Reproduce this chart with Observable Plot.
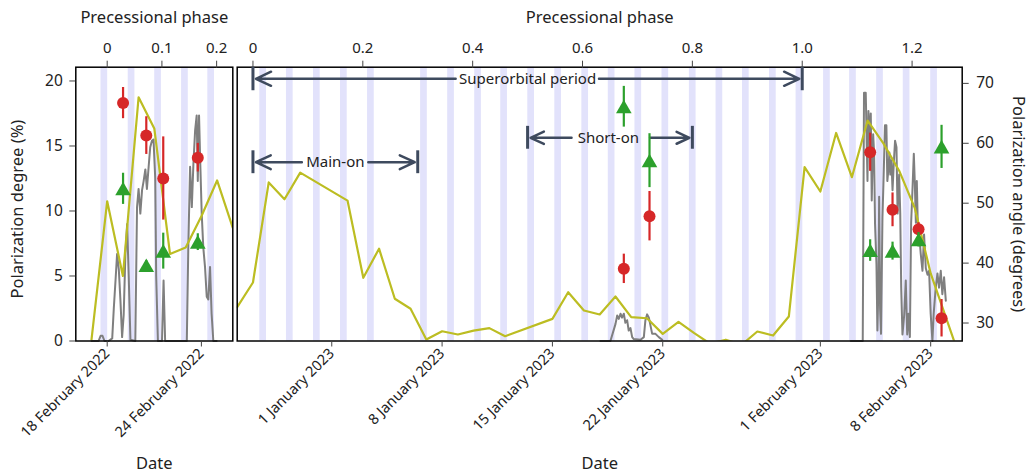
<!DOCTYPE html>
<html><head><meta charset="utf-8">
<script src="https://cdn.jsdelivr.net/npm/d3@7"></script>
<script src="https://cdn.jsdelivr.net/npm/@observablehq/plot@0.6"></script>
<style>
body{margin:0;background:#fff;}
#chart{position:relative;width:1030px;height:473px;overflow:hidden;}
#chart svg{position:absolute;left:0;top:0;}
</style></head><body><div id="chart"></div>
<script>
// ---------------- DATA ----------------
// Left panel (February 2022); times as days after leftEpoch
const leftEpoch = "2022-02-18";
const leftDomainDates = ["2022-02-16", "2022-02-26"];
const leftDateTicks = ["2022-02-18", "2022-02-24"];
const leftPhaseTicks = [0, 0.1, 0.2];
const stripesLeft = ["2022-02-17T18:50Z", "2022-02-19T12:30Z", "2022-02-21T05:00Z", "2022-02-22T22:05Z", "2022-02-24T14:10Z"];
const yellowLeftDates = ["2022-02-17", "2022-02-18", "2022-02-19", "2022-02-20", "2022-02-21", "2022-02-22", "2022-02-23", "2022-02-24", "2022-02-25", "2022-02-26"];
const yellowLeftValues = [0.1, 10.75, 5.0, 18.75, 16.35, 6.7, 7.2, 9.6, 12.35, 8.7];
const grayLeftT = [-1.0, -0.55, -0.42, -0.30, -0.17, 0.08, 0.32, 0.42, 0.53, 0.63, 0.74, 0.84, 0.95, 1.05, 1.16, 1.27, 1.37, 1.48, 1.79, 1.90, 2.00, 2.11, 2.22, 2.32, 2.43, 2.53, 2.64, 2.74, 2.85, 2.95, 3.06, 3.12, 3.23, 3.49, 3.59, 3.69, 5.07, 5.17, 5.28, 5.39, 5.49, 5.60, 5.70, 5.77, 5.85, 5.93, 6.02, 6.12, 6.23, 6.34, 6.44, 6.55, 6.65, 6.76, 6.97];
const grayLeftV = [0, 0, 0.4, 0.4, 0, 0, 0.2, 2.5, 4.65, 6.7, 5.5, 3.2, 0.3, 2.0, 6.7, 9.0, 5.0, 0.1, 0, 10.3, 11.7, 9.8, 11.6, 12.3, 13.2, 11.7, 13.4, 14.9, 15.4, 15.5, 12.5, 5, 0, 0, 4.65, 0, 0, 7.5, 13.4, 10.3, 13.6, 16.2, 17.35, 12.3, 17.35, 13.6, 9.8, 7.2, 5.7, 3.4, 3.2, 5.7, 2.1, 0, 0];
const obsLeftT = [1.01, 2.49, 3.57, 5.77];
const degLeft = [18.3, 15.8, 12.5, 14.1];
const degLeftErr = [1.2, 1.45, 3.2, 1.1];
const angLeft = [52.4, 39.6, 42.0, 43.5];
const angLeftErr = [2.6, 0.8, 3.0, 1.4];

// Right panel (Dec 2022 - Feb 2023); times as days after rightEpoch
const rightEpoch = "2023-01-01";
const rightDomainDates = ["2022-12-26", "2023-02-10"];
const rightDateTicks = ["2023-01-01", "2023-01-08", "2023-01-15", "2023-01-22", "2023-02-01", "2023-02-08"];
const rightPhaseTicks = [0, 0.2, 0.4, 0.6, 0.8, 1.0, 1.2];
const stripesRight = ["2022-12-27T14:45Z", "2022-12-29T07:20Z", "2022-12-31T00:30Z", "2023-01-01T17:40Z", "2023-01-03T10:50Z", "2023-01-06T19:40Z", "2023-01-08T12:50Z", "2023-01-10T06:00Z", "2023-01-11T21:40Z", "2023-01-13T14:50Z", "2023-01-15T08:00Z", "2023-01-17T01:10Z", "2023-01-18T17:25Z", "2023-01-20T10:00Z", "2023-01-22T03:10Z", "2023-01-23T20:55Z", "2023-01-25T13:30Z", "2023-01-27T05:45Z", "2023-01-28T22:55Z", "2023-01-30T15:25Z", "2023-02-01T09:15Z", "2023-02-03T00:55Z", "2023-02-04T18:05Z", "2023-02-06T10:35Z", "2023-02-08T04:25Z"];
const yellowRightDates = ["2022-12-26", "2022-12-27", "2022-12-28", "2022-12-29", "2022-12-30", "2023-01-02", "2023-01-03", "2023-01-04", "2023-01-05", "2023-01-06", "2023-01-07", "2023-01-08", "2023-01-09", "2023-01-10", "2023-01-11", "2023-01-12", "2023-01-15", "2023-01-16", "2023-01-17", "2023-01-18", "2023-01-19", "2023-01-20", "2023-01-21", "2023-01-22", "2023-01-23", "2023-01-24", "2023-01-25", "2023-01-26", "2023-01-27", "2023-01-28", "2023-01-29", "2023-01-30", "2023-01-31", "2023-02-01", "2023-02-02", "2023-02-03", "2023-02-04", "2023-02-05", "2023-02-06", "2023-02-07", "2023-02-08", "2023-02-09", "2023-02-10"];
const yellowRightValues = [2.6, 4.5, 12.2, 10.9, 12.95, 10.8, 4.86, 7.1, 3.25, 2.48, 0.12, 0.75, 0.5, 0.8, 0.99, 0.37, 1.7, 3.75, 2.35, 2.04, 3.42, 1.83, 1.75, 0.55, 1.47, 0.6, -0.2, 0.1, -0.3, 0.73, 0.42, 1.88, 13.37, 11.5, 16.0, 12.6, 16.96, 15.2, 13.1, 10.2, 5.2, 1.7, -1.8];
const grayRightAT = [17.05, 17.68, 18.0, 18.11, 18.21, 18.32, 18.42, 18.53, 18.63, 18.74, 18.84, 18.95, 19.06, 19.16, 19.59, 19.80, 19.90, 20.01, 20.12, 20.22, 20.33, 20.54, 20.75, 20.97];
const grayRightAV = [0, 0, 1.3, 1.96, 1.7, 2.1, 1.8, 2.1, 1.4, 1.6, 0.8, 1.0, 0.3, 0.15, 0.1, 0.3, 1.6, 2.05, 1.8, 1.2, 0.55, 0.55, 0.3, 0.1];
const grayRightBT = [32.93, 33.69, 33.77, 33.88, 33.99, 34.05, 34.14, 34.20, 34.26, 34.35, 34.41, 34.47, 34.56, 34.62, 34.69, 34.73, 34.79, 34.85, 34.94, 35.0, 35.10, 35.19, 35.25, 35.32, 35.38, 35.44, 35.51, 35.58, 35.66, 35.74, 35.83, 35.90, 36.0, 36.07, 36.13, 36.21, 36.32, 36.42, 36.51, 36.59, 36.68, 36.76, 36.85, 36.93, 36.99, 37.06, 37.12, 37.18, 37.27, 37.37, 37.48, 37.58, 37.69, 37.80, 37.90, 38.0, 38.11, 38.19, 38.32, 38.43, 38.53, 38.64, 38.74, 38.85, 38.96];
const grayRightBV = [0, 0, 19.1, 19.1, 12.3, 17.7, 15.5, 17.5, 10.8, 15.9, 14.5, 9.0, 5.9, 0.8, 4.5, 11.1, 2.5, 0.55, 9.5, 12.0, 16.6, 16.6, 12.3, 13.2, 14.5, 12.8, 13.9, 11.6, 13.7, 15.4, 14.9, 9.8, 12.8, 9.8, 4.1, 0.5, 2.0, 4.65, 0.5, 2.1, 0.3, 9.1, 11.8, 14.4, 12.3, 9.1, 12.3, 9.1, 8.25, 6.7, 5.4, 8.2, 5.6, 5.1, 5.4, 2.1, 0, 2.1, 4.1, 5.2, 4.1, 5.4, 3.6, 4.9, 3.1];
const obsRightT = [18.53, 20.16, 34.16, 35.58, 37.23, 38.69];
const degRight = [5.55, 9.6, 14.52, 10.09, 8.6, 1.75];
const degRightErr = [1.13, 1.9, 1.47, 1.3, 0.5, 1.44];
const angRight = [66.1, 57.1, 42.1, 42.0, 43.9, 59.4];
const angRightErr = [3.4, 4.5, 1.8, 1.5, 1.2, 3.6];

// Shared
const precPeriodDays = 34.85;
const phaseZeroLeft = "2022-02-18";
const phaseZeroRight = "2022-12-27";
const degDomain = [0, 21.06];
const angDomain = [27, 72.7];
const degTicks = [0, 5, 10, 15, 20];
const angTicks = [30, 40, 50, 60, 70];
const annotLabels = ["Superorbital period", "Short-on", "Main-on"];
const annotStart = [0, 0.5, 0];
const annotEnd = [1.0, 0.8, 0.3];
const annotTextAt = [0.5, 0.647, 0.15];
const annotGapLeft = [0.369, 0.58, 0.089];
const annotGapRight = [0.63, 0.723, 0.21];
const annotLevel = [20.17, 15.63, 13.75];

// ---------------- BUILD ----------------
const DAY = 864e5;
const at = (epoch, d) => new Date(Date.parse(epoch) + d * DAY);
const FONT = "'Noto Sans', sans-serif";
const W = 1030, H = 473, TOP = 66.7, BOTTOM = 340.5;
const RED = "#d62728", GREEN = "#2ca02c", OLIVE = "#bcbd22", GRAY = "#7f7f7f", STRIPE = "#e2e2fb", SLATE = "#3e4a5e", INK = "#222";
const PL = {left: 75.3, right: 232.3}, PR = {left: 236.7, right: 961.7};
const dateFmt = d3.utcFormat("%-d %B %Y");
const phaseFmt = d => d === 0 ? "0" : d.toFixed(1);

function base(p) {
  return {width: W, height: H, marginLeft: p.left, marginRight: W - p.right, marginTop: TOP, marginBottom: H - BOTTOM,
    style: {background: "transparent", fontFamily: FONT, fontSize: "15px", color: INK, overflow: "visible"}};
}
const toDates = a => a.map(s => new Date(s));
const phaseDomain = (dom, zero) => dom.map(s => (Date.parse(s) - Date.parse(zero)) / DAY / precPeriodDays);

const yellowLeft = yellowLeftDates.map((d, i) => ({t: new Date(d), v: yellowLeftValues[i]}));
const grayLeft = grayLeftT.map((t, i) => ({t: at(leftEpoch, t), v: grayLeftV[i]}));
const obsLeft = obsLeftT.map((t, i) => ({t: at(leftEpoch, t), deg: degLeft[i], de: degLeftErr[i], ang: angLeft[i], ae: angLeftErr[i]}));
const yellowRight = yellowRightDates.map((d, i) => ({t: new Date(d), v: yellowRightValues[i]}));
const grayRight = [
  ...grayRightAT.map((t, i) => ({t: at(rightEpoch, t), v: grayRightAV[i], seg: "a"})),
  ...grayRightBT.map((t, i) => ({t: at(rightEpoch, t), v: grayRightBV[i], seg: "b"}))
];
const obsRight = obsRightT.map((t, i) => ({t: at(rightEpoch, t), deg: degRight[i], de: degRightErr[i], ang: angRight[i], ae: angRightErr[i]}));
const annots = annotLabels.map((l, i) => ({label: l, start: annotStart[i], end: annotEnd[i], at: annotTextAt[i], gl: annotGapLeft[i], gr: annotGapRight[i], y: annotLevel[i]}));

function mainPanel(p, dom, stripes, gray, yellow, obs, ticks, withY, grayZ) {
  const marks = [
    Plot.ruleX(toDates(stripes), {stroke: STRIPE, strokeWidth: 6.7}),
    Plot.line(gray, {x: "t", y: "v", z: grayZ ? "seg" : null, stroke: GRAY, strokeWidth: 2}),
    Plot.line(yellow, {x: "t", y: "v", stroke: OLIVE, strokeWidth: 2.2, clip: true}),
    Plot.ruleX(obs, {x: "t", y1: d => d.deg - d.de, y2: d => d.deg + d.de, stroke: RED, strokeWidth: 2.2}),
    Plot.dot(obs, {x: "t", y: "deg", r: 6, fill: RED}),
    Plot.frame({stroke: "black", strokeWidth: 1.5}),
    Plot.axisX({anchor: "bottom", ticks: toDates(ticks), tickFormat: dateFmt, tickRotate: -45, tickSize: 6, tickPadding: 4, fontSize: 14.5, stroke: "#444", label: null}),
    Plot.text(["Date"], {frameAnchor: "bottom", lineAnchor: "middle", textAnchor: "middle", dy: 122.5, fontSize: 16.5, fill: INK})
  ];
  if (withY) {
    marks.push(Plot.axisY({ticks: degTicks, tickSize: 6, tickPadding: 7, fontSize: 15.5, stroke: "#444", label: null}));
    marks.push(Plot.text(["Polarization degree (%)"], {frameAnchor: "left", textAnchor: "middle", lineAnchor: "middle", dx: -58, dy: 5, rotate: -90, fontSize: 16.5, fill: INK}));
  }
  return Plot.plot({...base(p), x: {type: "utc", domain: toDates(dom)}, y: {domain: degDomain, axis: withY ? undefined : null}, marks});
}

function anglePanel(p, dom, obs, withAxis) {
  const marks = [
    Plot.ruleX(obs, {x: "t", y1: d => d.ang - d.ae, y2: d => d.ang + d.ae, stroke: GREEN, strokeWidth: 2.2}),
    Plot.dot(obs, {x: "t", y: "ang", symbol: "triangle", r: 5.8, fill: GREEN, dy: 2})
  ];
  if (withAxis) {
    marks.push(Plot.axisY({anchor: "right", ticks: angTicks, tickSize: 6, tickPadding: 8, fontSize: 15.5, stroke: "#444", label: null}));
    marks.push(Plot.text(["Polarization angle (degrees)"], {frameAnchor: "right", textAnchor: "middle", lineAnchor: "middle", dx: 56, dy: 0, rotate: 90, fontSize: 16.5, fill: INK}));
  }
  return Plot.plot({...base(p), x: {type: "utc", domain: toDates(dom), axis: null}, y: {domain: angDomain, axis: withAxis ? undefined : null}, marks});
}

function phasePanel(p, dom, zero, ticks, withAnnots) {
  const marks = [
    Plot.axisX({anchor: "top", ticks, tickFormat: phaseFmt, tickSize: 7, tickPadding: 7, fontSize: 15, stroke: "#444", label: null}),
    Plot.text(["Precessional phase"], {frameAnchor: "top", lineAnchor: "middle", textAnchor: "middle", dy: -49.7, fontSize: 16.5, fill: INK})
  ];
  if (withAnnots) {
    const bars = annots.flatMap((a, i) => [a.start, a.end].map(x => ({x, y1: i === 0 ? a.y - 0.92 : a.y - 0.88, y2: i === 0 ? degDomain[1] : a.y + 0.88})));
    marks.push(
      Plot.ruleX(bars, {x: "x", y1: "y1", y2: "y2", stroke: SLATE, strokeWidth: 3}),
      Plot.arrow(annots, {x1: "gl", x2: "start", y1: "y", y2: "y", stroke: SLATE, strokeWidth: 2.5, headLength: 10, headAngle: 50, insetEnd: 3}),
      Plot.arrow(annots, {x1: "gr", x2: "end", y1: "y", y2: "y", stroke: SLATE, strokeWidth: 2.5, headLength: 10, headAngle: 50, insetEnd: 3}),
      Plot.text(annots, {x: "at", y: "y", text: "label", fontSize: 15, fill: INK})
    );
  }
  return Plot.plot({...base(p), x: {domain: phaseDomain(dom, zero)}, y: {domain: degDomain, axis: null}, marks});
}

const chart = document.getElementById("chart");
chart.append(
  mainPanel(PL, leftDomainDates, stripesLeft, grayLeft, yellowLeft, obsLeft, leftDateTicks, true, false),
  mainPanel(PR, rightDomainDates, stripesRight, grayRight, yellowRight, obsRight, rightDateTicks, false, true),
  phasePanel(PL, leftDomainDates, phaseZeroLeft, leftPhaseTicks, false),
  phasePanel(PR, rightDomainDates, phaseZeroRight, rightPhaseTicks, true),
  anglePanel(PL, leftDomainDates, obsLeft, false),
  anglePanel(PR, rightDomainDates, obsRight, true)
);
</script></body></html>
